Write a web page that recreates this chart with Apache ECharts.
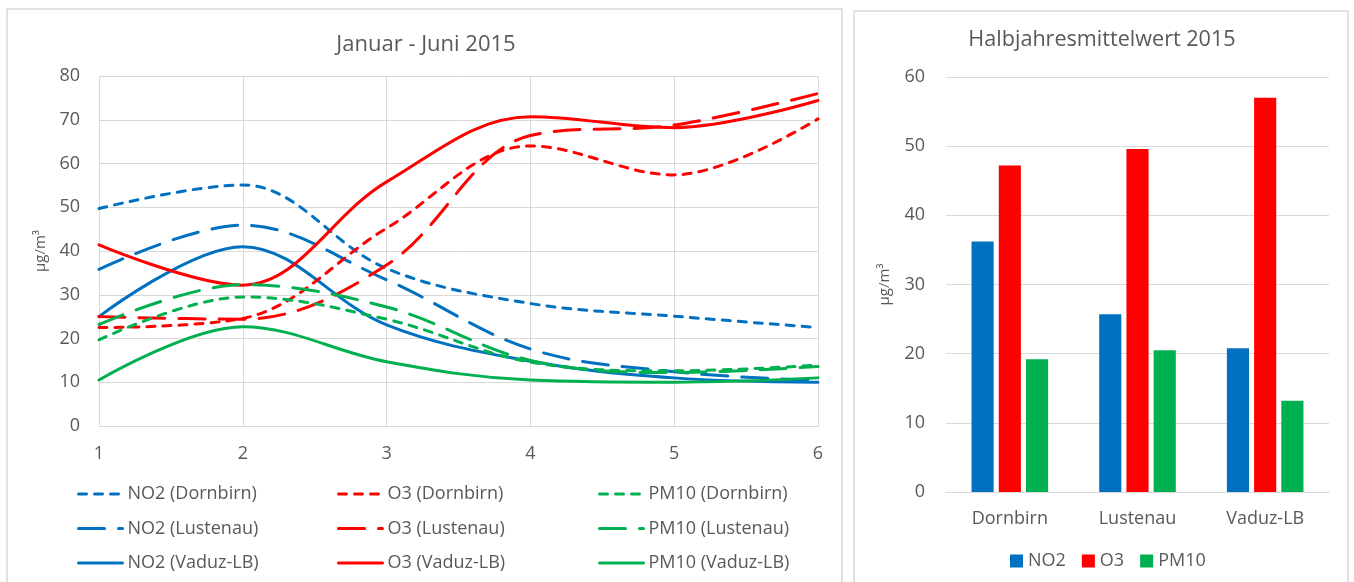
<!DOCTYPE html>
<html>
<head>
<meta charset="utf-8">
<title>Luftgüte Januar - Juni 2015</title>
<script src="https://cdn.jsdelivr.net/npm/echarts@6/dist/echarts.min.js"></script>
<style>
  html, body { margin: 0; padding: 0; background: #ffffff; }
  #chart { width: 1354px; height: 582px; }
</style>
</head>
<body>
<div id="chart"></div>
<script>
// Monatsverlauf Januar - Juni 2015 (µg/m³)
const months = [1, 2, 3, 4, 5, 6];
const no2Dornbirn  = [49.7, 55.1, 36.0, 28.0, 25.1, 22.5];
const no2Lustenau  = [35.8, 45.9, 33.4, 17.6, 12.4, 10.4];
const no2Vaduz     = [25.0, 41.0, 23.1, 14.8, 11.0, 10.0];
const o3Dornbirn   = [22.5, 24.6, 45.2, 64.0, 57.4, 70.2];
const o3Lustenau   = [25.0, 24.4, 36.8, 66.4, 68.8, 76.0];
const o3Vaduz      = [41.4, 32.2, 55.8, 70.7, 68.2, 74.4];
const pm10Dornbirn = [19.7, 29.5, 24.4, 14.6, 12.6, 13.9];
const pm10Lustenau = [23.2, 32.3, 27.2, 15.0, 12.2, 13.6];
const pm10Vaduz    = [10.5, 22.7, 14.7, 10.5, 10.0, 11.0];

// Halbjahresmittelwerte 2015 (µg/m³)
const stations = ['Dornbirn', 'Lustenau', 'Vaduz-LB'];
const meanNO2  = [36.2, 25.7, 20.8];
const meanO3   = [47.2, 49.6, 57.0];
const meanPM10 = [19.2, 20.5, 13.2];

const lineTicks = [0, 10, 20, 30, 40, 50, 60, 70, 80];
const barTicks  = [0, 10, 20, 30, 40, 50, 60];

const BLUE = '#0070C0', RED = '#FF0000', GREEN = '#00B050';
const TEXT = '#595959', GRID = '#D9D9D9';
const FONT = '"Open Sans", "Noto Sans", sans-serif';
const SHORT_DASH = [8, 8];
const LONG_DASH = [26, 14];

function pairs(values) {
  return months.map((m, i) => [m, values[i]]);
}

function lineSeries(name, values, color, dash) {
  return {
    name: name,
    type: 'line',
    xAxisIndex: 0,
    yAxisIndex: 0,
    data: pairs(values),
    smooth: 0.36,
    symbol: 'none',
    showSymbol: false,
    lineStyle: { color: color, width: 3, type: dash || 'solid', cap: 'round' },
    itemStyle: { color: color },
    emphasis: { disabled: true },
    z: 3
  };
}

function barSeries(name, values, color) {
  return {
    name: name,
    type: 'bar',
    xAxisIndex: 1,
    yAxisIndex: 1,
    data: values,
    barGap: '23%',
    barCategoryGap: '40%',
    itemStyle: { color: color },
    emphasis: { disabled: true }
  };
}

function lineLegend(left, names) {
  return {
    orient: 'vertical',
    left: left,
    top: 484,
    padding: 0,
    itemWidth: 44,
    itemHeight: 14,
    itemGap: 14.5,
    selectedMode: false,
    data: names,
    itemStyle: { opacity: 0 },
    lineStyle: { width: 3 },
    textStyle: { color: TEXT, fontSize: 18, fontFamily: FONT, lineHeight: 20 }
  };
}

const chart = echarts.init(document.getElementById('chart'), null, { renderer: 'canvas' });

chart.setOption({
  backgroundColor: '#ffffff',
  animation: false,
  graphic: [
    { type: 'rect', shape: { x: 7, y: 9, width: 835, height: 600 },
      style: { fill: 'none', stroke: GRID, lineWidth: 1.5 }, silent: true, z: -10 },
    { type: 'rect', shape: { x: 854, y: 11, width: 494, height: 600 },
      style: { fill: 'none', stroke: GRID, lineWidth: 1.5 }, silent: true, z: -10 }
  ],
  title: [
    { text: 'Januar - Juni 2015', left: 421, top: 29, textAlign: 'center',
      textStyle: { color: TEXT, fontSize: 22, fontWeight: 'normal', fontFamily: FONT } },
    { text: 'Halbjahresmittelwert 2015', left: 1097, top: 24, textAlign: 'center',
      textStyle: { color: TEXT, fontSize: 21.6, fontWeight: 'normal', fontFamily: FONT } }
  ],
  legend: [
    lineLegend(77, ['NO2 (Dornbirn)', 'NO2 (Lustenau)', 'NO2 (Vaduz-LB)']),
    lineLegend(337, ['O3 (Dornbirn)', 'O3 (Lustenau)', 'O3 (Vaduz-LB)']),
    lineLegend(598, ['PM10 (Dornbirn)', 'PM10 (Lustenau)', 'PM10 (Vaduz-LB)']),
    {
      orient: 'horizontal',
      left: 1010,
      top: 552,
      padding: 0,
      itemWidth: 13,
      itemHeight: 13,
      itemGap: 16,
      selectedMode: false,
      icon: 'rect',
      data: ['NO2', 'O3', 'PM10'],
      textStyle: { color: TEXT, fontSize: 18, fontFamily: FONT }
    }
  ],
  grid: [
    { left: 99, top: 76, width: 719, height: 350 },
    { left: 946, top: 77, width: 383, height: 415 }
  ],
  xAxis: [
    {
      type: 'value', gridIndex: 0, min: 1, max: 6, interval: 1,
      axisLine: { show: true, lineStyle: { color: GRID, width: 1 } },
      axisTick: { show: false },
      splitLine: { show: true, lineStyle: { color: GRID, width: 1 } },
      axisLabel: { color: TEXT, fontSize: 18, fontFamily: FONT, margin: 19 }
    },
    {
      type: 'category', gridIndex: 1, data: stations,
      axisLine: { show: true, lineStyle: { color: GRID, width: 1 } },
      axisTick: { show: false },
      splitLine: { show: false },
      axisLabel: { color: TEXT, fontSize: 18, fontFamily: FONT, margin: 18 }
    }
  ],
  yAxis: [
    {
      type: 'value', gridIndex: 0, min: lineTicks[0], max: lineTicks[lineTicks.length - 1], interval: 10,
      name: 'µg/m³', nameLocation: 'middle', nameRotate: 90, nameGap: 44,
      nameTextStyle: { color: TEXT, fontSize: 15, fontFamily: FONT },
      axisLine: { show: false },
      axisTick: { show: false },
      splitLine: { show: true, lineStyle: { color: GRID, width: 1 } },
      axisLabel: { color: TEXT, fontSize: 18, fontFamily: FONT, margin: 19 }
    },
    {
      type: 'value', gridIndex: 1, min: barTicks[0], max: barTicks[barTicks.length - 1], interval: 10,
      name: 'µg/m³', nameLocation: 'middle', nameRotate: 90, nameGap: 54,
      nameTextStyle: { color: TEXT, fontSize: 15, fontFamily: FONT },
      axisLine: { show: false },
      axisTick: { show: false },
      splitLine: { show: true, lineStyle: { color: GRID, width: 1 } },
      axisLabel: { color: TEXT, fontSize: 18, fontFamily: FONT, margin: 21 }
    }
  ],
  series: [
    lineSeries('NO2 (Dornbirn)', no2Dornbirn, BLUE, SHORT_DASH),
    lineSeries('NO2 (Lustenau)', no2Lustenau, BLUE, LONG_DASH),
    lineSeries('NO2 (Vaduz-LB)', no2Vaduz, BLUE),
    lineSeries('O3 (Dornbirn)', o3Dornbirn, RED, SHORT_DASH),
    lineSeries('O3 (Lustenau)', o3Lustenau, RED, LONG_DASH),
    lineSeries('O3 (Vaduz-LB)', o3Vaduz, RED),
    lineSeries('PM10 (Dornbirn)', pm10Dornbirn, GREEN, SHORT_DASH),
    lineSeries('PM10 (Lustenau)', pm10Lustenau, GREEN, LONG_DASH),
    lineSeries('PM10 (Vaduz-LB)', pm10Vaduz, GREEN),
    barSeries('NO2', meanNO2, BLUE),
    barSeries('O3', meanO3, RED),
    barSeries('PM10', meanPM10, GREEN)
  ]
});
</script>
</body>
</html>
